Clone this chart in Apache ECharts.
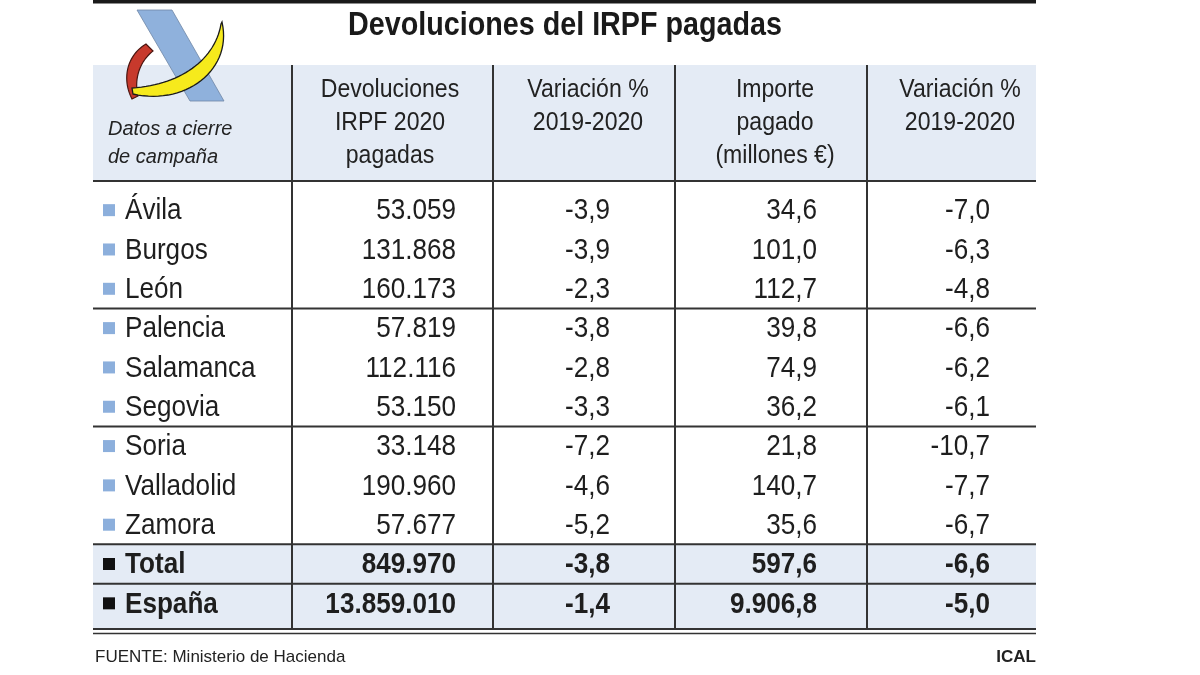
<!DOCTYPE html>
<html>
<head>
<meta charset="utf-8">
<script src="https://cdn.jsdelivr.net/npm/echarts@6/dist/echarts.min.js"></script>
<style>html,body{margin:0;padding:0;background:#fff}#c{width:1200px;height:675px}</style>
</head>
<body>
<div id="c"></div>
<script>
// ---- data ----
const provinces = ['Ávila','Burgos','León','Palencia','Salamanca','Segovia','Soria','Valladolid','Zamora','Total','España'];
const devoluciones = [53059, 131868, 160173, 57819, 112116, 53150, 33148, 190960, 57677, 849970, 13859010];
const varDevoluciones = [-3.9, -3.9, -2.3, -3.8, -2.8, -3.3, -7.2, -4.6, -5.2, -3.8, -1.4];
const importe = [34.6, 101.0, 112.7, 39.8, 74.9, 36.2, 21.8, 140.7, 35.6, 597.6, 9906.8];
const varImporte = [-7.0, -6.3, -4.8, -6.6, -6.2, -6.1, -10.7, -7.7, -6.7, -6.6, -5.0];
const headers = [
  ['Devoluciones', 'IRPF 2020', 'pagadas'],
  ['Variación %', '2019-2020'],
  ['Importe', 'pagado', '(millones €)'],
  ['Variación %', '2019-2020']
];
const titleText = 'Devoluciones del IRPF pagadas';
const noteLines = ['Datos a cierre', 'de campaña'];
const sourceText = 'FUENTE: Ministerio de Hacienda';
const creditText = 'ICAL';

// ---- layout ----
const FONT = '"Liberation Sans", Arial, sans-serif';
const SX = 0.87; // horizontal condensation of the table typeface
const TL = 93, TR = 1036;
const COL_SEPS = [292, 493, 675, 867];
const VALUE_RIGHT = [456, 610, 817, 990];
const HEADER_CENTER = [390, 588, 775, 960];
const HEADER_TOP = 65, HEADER_BOTTOM = 181, TABLE_BOTTOM = 629;
const BLUE_BG = '#e4ebf5';
const LINE = '#333333';
const TEXT = '#1e1e1e';
const SQUARE_BLUE = '#8cafdc';
const GROUP_BREAKS = [2, 5, 8, 9];

function fmtInt(n) { return String(n).replace(/\B(?=(\d{3})+(?!\d))/g, '.'); }
function fmtDec(n) {
  const s = n.toFixed(1).split('.');
  return fmtInt(s[0]) + ',' + s[1];
}
function ctext(text, x, y, align, font, fill, z) {
  const el = {type: 'text', x: x, y: y, scaleX: SX, scaleY: 1,
    style: {text: text, x: 0, y: 0, align: align, verticalAlign: 'middle', font: font, fill: fill}};
  if (z != null) el.z = z;
  return el;
}
function cubic(p0, p1, p2, p3, n) {
  const pts = [];
  for (let k = 0; k <= n; k++) {
    const t = k / n, u = 1 - t;
    const a = u * u * u, b = 3 * u * u * t, c = 3 * u * t * t, d = t * t * t;
    pts.push([a * p0[0] + b * p1[0] + c * p2[0] + d * p3[0], a * p0[1] + b * p1[1] + c * p2[1] + d * p3[1]]);
  }
  return pts;
}
function crescent(outer, inner) {
  return cubic.apply(null, outer.concat([30])).concat(cubic.apply(null, inner.concat([30])).reverse());
}

const tableData = provinces.map((p, i) => [i, devoluciones[i], varDevoluciones[i], importe[i], varImporte[i]]);

const graphics = [];
// top bar
graphics.push({type: 'rect', shape: {x: TL, y: 0, width: TR - TL, height: 3.5}, style: {fill: '#1a1a1a'}, z: 50});
// header background
graphics.push({type: 'rect', shape: {x: TL, y: HEADER_TOP, width: TR - TL, height: HEADER_BOTTOM - HEADER_TOP}, style: {fill: BLUE_BG}, z: 0});
// logo
graphics.push({type: 'polygon', shape: {points: [[137, 10], [172, 10], [224, 101], [190, 101]]}, style: {fill: '#8fb1dc', stroke: '#6f86a6', lineWidth: 0.8}, z: 5});
graphics.push({type: 'polygon', shape: {points: crescent([[146, 44], [126, 56], [122, 80], [132, 99]], [[153, 51], [139, 62], [134, 80], [138, 96]])}, style: {fill: '#c7392c', stroke: '#4a1510', lineWidth: 1.2}, z: 6});
graphics.push({type: 'polygon', shape: {points: crescent([[133, 94], [185, 106], [233, 70], [222, 22]], [[132, 88], [180, 85], [215, 60], [221, 24]])}, style: {fill: '#f6ea1c', stroke: '#1a1a1a', lineWidth: 1.3}, z: 7});
// title
graphics.push(ctext(titleText, 565, 26, 'center', 'bold 33px ' + FONT, '#1a1a1a', 50));
// note
noteLines.forEach((t, k) => graphics.push({type: 'text', style: {text: t, x: 108, y: 129 + k * 28, align: 'left', verticalAlign: 'middle', font: 'italic 20px "Liberation Sans", sans-serif', fill: '#222'}, z: 50}));
// headers
headers.forEach((lines, c) => lines.forEach((t, k) => graphics.push(ctext(t, HEADER_CENTER[c], 90 + k * 33, 'center', '26.5px ' + FONT, '#222', 50))));
// header bottom line
graphics.push({type: 'line', shape: {x1: TL, y1: HEADER_BOTTOM, x2: TR, y2: HEADER_BOTTOM}, style: {stroke: LINE, lineWidth: 2}, z: 100});
// vertical separators
COL_SEPS.forEach(x => graphics.push({type: 'line', shape: {x1: x, y1: HEADER_TOP, x2: x, y2: TABLE_BOTTOM}, style: {stroke: LINE, lineWidth: 2}, z: 100}));
// bottom double line
graphics.push({type: 'line', shape: {x1: TL, y1: TABLE_BOTTOM, x2: TR, y2: TABLE_BOTTOM}, style: {stroke: LINE, lineWidth: 2}, z: 100});
graphics.push({type: 'line', shape: {x1: TL, y1: TABLE_BOTTOM + 4.5, x2: TR, y2: TABLE_BOTTOM + 4.5}, style: {stroke: LINE, lineWidth: 1.5}, z: 100});
// footer
graphics.push({type: 'text', style: {text: sourceText, x: 95, y: 657, align: 'left', verticalAlign: 'middle', font: '17px "Liberation Sans", sans-serif', fill: '#222'}, z: 50});
graphics.push({type: 'text', style: {text: creditText, x: TR, y: 657, align: 'right', verticalAlign: 'middle', font: 'bold 17px "Liberation Sans", sans-serif', fill: '#222'}, z: 50});

const chart = echarts.init(document.getElementById('c'));
chart.setOption({
  animation: false,
  backgroundColor: '#fff',
  grid: {left: 0, right: 0, top: 190.5, height: 432.5},
  xAxis: {type: 'value', min: 0, max: 1200, show: false},
  yAxis: {type: 'category', data: provinces, inverse: true, show: false},
  graphic: graphics,
  series: [{
    type: 'custom',
    data: tableData,
    encode: {y: 0},
    z: 2,
    renderItem: function (params, api) {
      const i = api.value(0);
      const yc = api.coord([0, i])[1];
      const h = api.size([0, 1])[1];
      const bold = i >= 9;
      const font = (bold ? 'bold ' : '') + '30px ' + FONT;
      const children = [];
      if (bold) {
        const top = yc - h / 2;
        const bottom = i === provinces.length - 1 ? TABLE_BOTTOM : yc + h / 2;
        children.push({type: 'rect', shape: {x: api.coord([TL, i])[0], y: top, width: TR - TL, height: bottom - top}, style: {fill: BLUE_BG}});
      }
      if (GROUP_BREAKS.indexOf(i) >= 0) {
        children.push({type: 'line', shape: {x1: api.coord([TL, i])[0], y1: yc + h / 2, x2: api.coord([TR, i])[0], y2: yc + h / 2}, style: {stroke: LINE, lineWidth: 2}, z2: 10});
      }
      children.push({type: 'rect', shape: {x: api.coord([103, i])[0], y: yc - 6, width: 12, height: 12}, style: {fill: bold ? '#111' : SQUARE_BLUE}});
      children.push(ctext(provinces[i], api.coord([125, i])[0], yc + 1, 'left', font, TEXT));
      const vals = [fmtInt(api.value(1)), fmtDec(api.value(2)), fmtDec(api.value(3)), fmtDec(api.value(4))];
      vals.forEach((v, k) => children.push(ctext(v, api.coord([VALUE_RIGHT[k], i])[0], yc + 1, 'right', font, TEXT)));
      return {type: 'group', children: children};
    }
  }]
});
</script>
</body>
</html>
